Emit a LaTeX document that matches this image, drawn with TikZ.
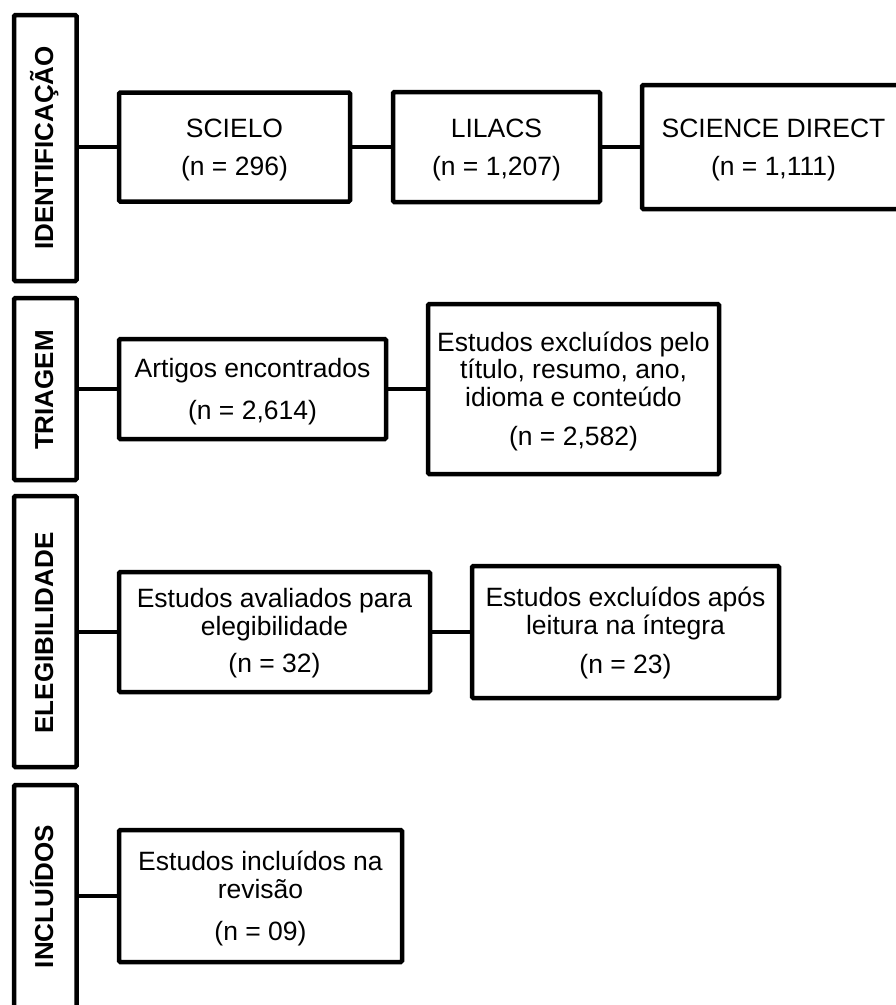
\documentclass[tikz,border=0pt]{standalone}
\usepackage{fontspec}
\setmainfont{Liberation Sans}
\begin{document}
\begin{tikzpicture}[x=1pt,y=-1pt,
  box/.style={draw=black, line width=4.5pt, rounded corners=1.2pt, inner sep=0pt, outer sep=0pt, fill=white},
  side/.style={box, minimum width=62.5pt},
  txt/.style={align=center, anchor=base, inner sep=0pt, font=\fontsize{26.5}{27.5}\selectfont},
  stxt/.style={anchor=base, rotate=90, inner sep=0pt, font=\fontsize{26}{28}\selectfont\bfseries},
  link/.style={draw=black, line width=4.5pt}]
\clip (0,0) rectangle (896,1005);
\fill[white] (0,0) rectangle (896,1005);
% side boxes
\node[side, minimum height=266pt] (idside) at (45.25,148) {};
\node[side, minimum height=182pt] (triside) at (45.25,389) {};
\node[side, minimum height=271pt] (eleside) at (45.25,631.5) {};
\node[side, minimum height=223pt] (incside) at (45.25,896.5) {};
\node[stxt] (idlab) at (53,148) {IDENTIFICAÇÃO};
\node[stxt] (trilab) at (53,390) {TRIAGEM};
\node[stxt] (elelab) at (53,633) {ELEGIBILIDADE};
\node[stxt] (inclab) at (53,896.5) {INCLUÍDOS};
% row 1
\node[box, minimum width=231pt, minimum height=109pt] (scielo) at (234.5,147) {};
\node[box, minimum width=207pt, minimum height=110pt] (lilacs) at (496.5,147) {};
\node[box, minimum width=263pt, minimum height=124pt] (sd) at (773.5,147) {};
\node[txt] (scielot) at (234.5,175) {SCIELO\\[10.5pt](n = 296)};
\node[txt] (lilacst) at (496.5,175) {LILACS\\[10.5pt](n = 1,207)};
\node[txt] (sdt) at (773.5,175) {SCIENCE DIRECT\\[10.5pt](n = 1,111)};
% row 2
\node[box, minimum width=267pt, minimum height=100pt] (artigos) at (252.5,389) {};
\node[box, minimum width=291pt, minimum height=170pt] (excl1) at (573.5,389) {};
\node[txt] (artigost) at (252.5,419) {Artigos encontrados\\[14pt](n = 2,614)};
\node[txt] (excl1t) at (573.5,445) {Estudos excluídos pelo\\título, resumo, ano,\\idioma e conteúdo\\[11.5pt](n = 2,582)};
% row 3
\node[box, minimum width=311pt, minimum height=120pt] (aval) at (274.5,632) {};
\node[box, minimum width=307pt, minimum height=132pt] (excl2) at (625.5,632) {};
\node[txt] (avalt) at (274.5,672) {Estudos avaliados para\\elegibilidade\\[9.5pt](n = 32)};
\node[txt] (excl2t) at (625.5,673) {Estudos excluídos após\\leitura na íntegra\\[11.5pt](n = 23)};
% row 4
\node[box, minimum width=283pt, minimum height=132pt] (incl) at (260.5,896) {};
\node[txt] (inclt) at (260.5,940) {Estudos incluídos na\\revisão\\[14.5pt](n = 09)};
% connectors
\draw[link] (scielo.west) -- (scielo.west -| idside.east);
\draw[link] (scielo.east) -- (lilacs.west);
\draw[link] (lilacs.east) -- (sd.west);
\draw[link] (artigos.west) -- (artigos.west -| triside.east);
\draw[link] (artigos.east) -- (excl1.west);
\draw[link] (aval.west) -- (aval.west -| eleside.east);
\draw[link] (aval.east) -- (excl2.west);
\draw[link] (incl.west) -- (incl.west -| incside.east);
\end{tikzpicture}
\end{document}
